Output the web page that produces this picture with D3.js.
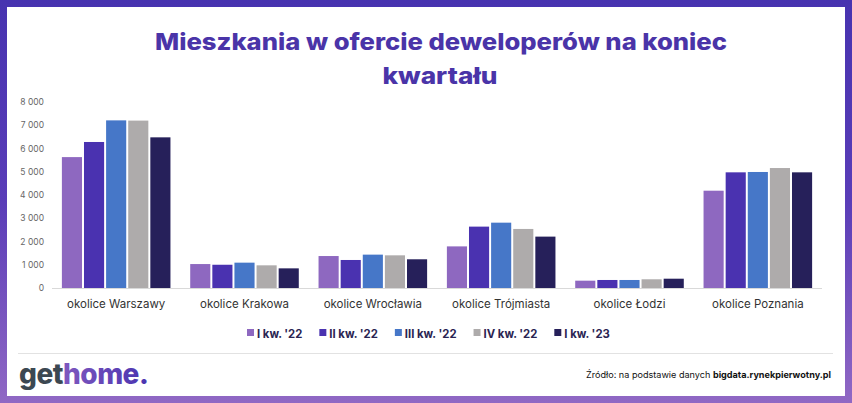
<!DOCTYPE html>
<html><head><meta charset="utf-8">
<script src="https://cdn.jsdelivr.net/npm/d3@7"></script>
<style>body{margin:0;background:#fff}svg{display:block}</style>
</head><body>
<svg id="c" width="852" height="403"></svg>
<script>
const categories = ["okolice Warszawy","okolice Krakowa","okolice Wrocławia","okolice Trójmiasta","okolice Łodzi","okolice Poznania"];
const seriesNames = ["I kw. '22","II kw. '22","III kw. '22","IV kw. '22","I kw. '23"];
const q1_22 = [5630, 1030, 1375, 1790, 315, 4185];
const q2_22 = [6280, 1000, 1205, 2640, 345, 4975];
const q3_22 = [7210, 1090, 1435, 2810, 345, 4990];
const q4_22 = [7200, 975, 1405, 2540, 375, 5160];
const q1_23 = [6480, 845, 1235, 2210, 400, 4975];
const yTicks = [0,1000,2000,3000,4000,5000,6000,7000,8000];
const colors = ["#8e68c0","#4a32b0","#4677c8","#aeabab","#26205a"];
const seriesValues = [q1_22,q2_22,q3_22,q4_22,q1_23];

const svg = d3.select("#c");
const defs = svg.append("defs");
const g1 = defs.append("linearGradient").attr("id","bg").attr("x1",0).attr("y1",0).attr("x2",0).attr("y2",1);
g1.append("stop").attr("offset","0").attr("stop-color","#4733b0");
g1.append("stop").attr("offset","0.5").attr("stop-color","#5a3db8");
g1.append("stop").attr("offset","1").attr("stop-color","#9068c4");
const g2 = defs.append("linearGradient").attr("id","home").attr("x1",0).attr("y1",0).attr("x2",1).attr("y2",0);
g2.append("stop").attr("offset","0").attr("stop-color","#9a6ac6");
g2.append("stop").attr("offset","1").attr("stop-color","#4a34b0");

svg.append("rect").attr("width",852).attr("height",403).attr("fill","url(#bg)");
svg.append("rect").attr("x",7).attr("y",7).attr("width",838).attr("height",389).attr("fill","#fff");

// title
const title = svg.append("text").attr("text-anchor","middle").attr("fill","#4a34a8")
  .attr("font-family","Inter, 'Open Sans', sans-serif").attr("font-weight",800).attr("font-size",23);
title.append("tspan").attr("x",441).attr("y",50).attr("textLength",572).attr("lengthAdjust","spacingAndGlyphs").text("Mieszkania w ofercie deweloperów na koniec");
title.append("tspan").attr("x",440).attr("y",84).attr("textLength",115).attr("lengthAdjust","spacingAndGlyphs").text("kwartału");

const y = d3.scaleLinear().domain([0,8000]).range([288,102]);
const x0 = d3.scaleBand().domain(categories).range([52,822]).paddingInner(0.154).paddingOuter(0.077);
const x1 = d3.scaleBand().domain(seriesNames).range([0,x0.bandwidth()]).paddingInner(0.09);

// y axis
const yAxis = d3.axisLeft(y).tickValues(yTicks).tickSize(0).tickPadding(0)
  .tickFormat(d => d3.format(",")(d).replace(/,/g," "));
const ya = svg.append("g").attr("transform","translate(44,0)").call(yAxis);
ya.select(".domain").remove();
ya.selectAll("text").attr("font-family","Inter, sans-serif").attr("font-size",8.5).attr("fill","#666").attr("dy","0.32em");

// bars
const groups = svg.append("g").selectAll("g").data(categories).join("g")
  .attr("transform", d => `translate(${x0(d)},0)`);
groups.selectAll("rect").data((c,i) => seriesNames.map((s,j) => ({s, v: seriesValues[j][i], j})))
  .join("rect")
  .attr("x", d => x1(d.s)).attr("width", x1.bandwidth())
  .attr("y", d => y(d.v)).attr("height", d => y(0) - y(d.v))
  .attr("fill", d => colors[d.j]);

// x axis
const xAxis = d3.axisBottom(x0).tickSize(0).tickPadding(12);
const xa = svg.append("g").attr("transform",`translate(0,${y(0)})`).call(xAxis);
xa.select(".domain").attr("stroke","#d9d9d9").attr("d","M52,0.5H822");
xa.selectAll("text").attr("font-family","Inter, sans-serif").attr("font-size",11.5).attr("fill","#333");

// legend
const leg = svg.append("g").attr("font-family","Inter, sans-serif").attr("font-weight",700).attr("font-size",11.3).attr("fill","#2a2452");
let lx = 247;
seriesNames.forEach((s,i) => {
  leg.append("rect").attr("x",lx).attr("y",329).attr("width",7).attr("height",7).attr("fill",colors[i]);
  const t = leg.append("text").attr("x",lx+10).attr("y",337.5).text(s);
  lx += 10 + t.node().getComputedTextLength() + 17;
});

// separator
svg.append("line").attr("x1",18).attr("x2",833).attr("y1",353.5).attr("y2",353.5).attr("stroke","#e2e2e2").attr("stroke-width",1);

// logo
const logo = svg.append("text").attr("x",19).attr("y",384).attr("font-family","Inter, sans-serif").attr("font-weight",800).attr("font-size",28).attr("letter-spacing",-0.5);
logo.append("tspan").attr("fill","#3c4852").text("get");
logo.append("tspan").attr("fill","url(#home)").text("home.");

// source
const src = svg.append("text").attr("x",831).attr("y",378).attr("text-anchor","end").attr("font-family","Inter, sans-serif").attr("font-size",9.1).attr("fill","#111");
src.append("tspan").text("Źródło: na podstawie danych ");
src.append("tspan").attr("font-weight",700).text("bigdata.rynekpierwotny.pl");
</script>
</body></html>
